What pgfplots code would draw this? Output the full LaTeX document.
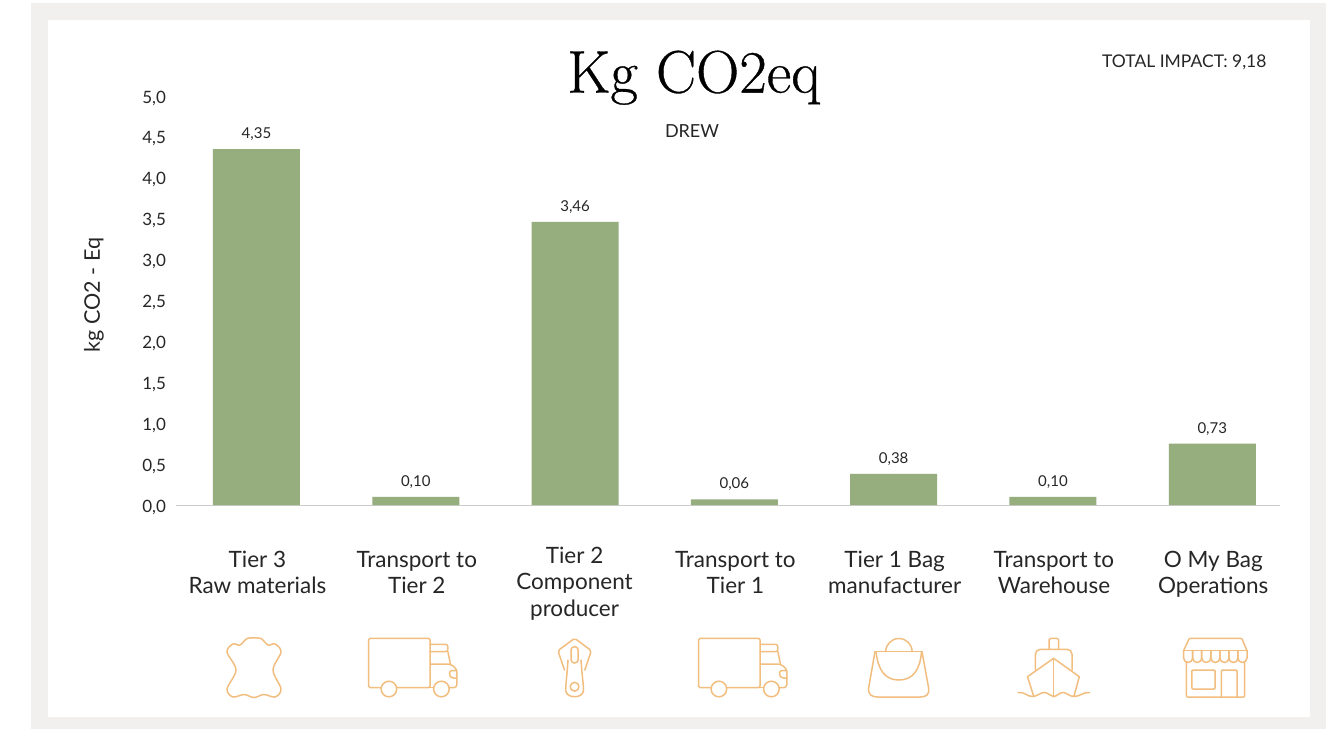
\documentclass[border=0pt]{standalone}
\usepackage{fontspec}
\setsansfont{Lato}
\newfontfamily\titlefont[FakeBold=0.6]{Latin Modern Roman}
\usepackage{pgfplots}
\pgfplotsset{compat=1.18}
\definecolor{frameg}{HTML}{F1F0EE}
\definecolor{barg}{HTML}{96AD7E}
\definecolor{ico}{HTML}{F2BE7F}
\definecolor{txt}{HTML}{262626}
\newcommand{\truckicon}{%
  \draw[rounded corners=1.5] (381,687.7) -- (368.6,687.7) -- (368.6,638.3) -- (430,638.3) -- (430,687.7) -- (397,687.7);
  \draw (430,687.7) -- (433,687.7);
  \draw[rounded corners=2.5] (430,644.3) -- (447.9,644.3) -- (447.9,651.7) -- (430,651.7);
  \draw (447.9,651.7) -- (450.4,664);
  \draw[rounded corners=3] (430,664) -- (450.4,664) -- (456.8,669) -- (456.8,687.7) -- (449.5,687.7);
  \draw[rounded corners=1.5] (456.8,670.7) -- (449.6,670.7) -- (449.6,676) -- (452,678) -- (456.8,678);
  \draw (388.9,689) circle (7.8);
  \draw (441.4,689) circle (7.8);
}
\begin{document}
\begin{tikzpicture}[x=1pt,y=1pt]
\useasboundingbox (0,0) rectangle (1332,729);
\fill[white] (0,0) rectangle (1332,729);
\fill[frameg] (31,0) rectangle (1326,726);
\fill[white] (48,12) rectangle (1310,709);
\begin{axis}[
  at={(176pt,224pt)}, anchor=south west,
  scale only axis, width=1104pt, height=409pt,
  xmin=-0.505, xmax=6.425, ymin=0, ymax=5,
  axis x line=bottom, axis y line=left,
  axis line style={-},
  x axis line style={draw=black!20, line width=1pt},
  y axis line style={draw=none},
  major tick length=0pt,
  ytick={0,0.5,...,5},
  xtick={0,1,3,4,5,6},
  xticklabels={
    Tier 3\\Raw materials,
    Transport to\\Tier 2,
    Transport to\\Tier 1,
    Tier 1 Bag\\manufacturer,
    Transport to\\Warehouse,
    O My Bag\\Operations},
  extra x ticks={2},
  extra x tick labels={Tier 2\\Component\\producer},
  extra x tick style={xticklabel style={yshift=4pt, xshift=-1.5pt}},
  xticklabel style={font=\sffamily\fontsize{22.5}{26.5}\selectfont, text=txt, align=center, anchor=north, yshift=-42.5pt, xshift=1pt},
  yticklabel style={font=\sffamily\fontsize{17}{18}\selectfont, text=txt, xshift=-6.5pt, yshift=-2pt,
    /pgf/number format/.cd, fixed, fixed zerofill, precision=1, use comma, assume math mode=true},
  ylabel={kg CO2 - Eq},
  y label style={at={(axis description cs:-0.0743,0.513)}, anchor=center,
    font=\sffamily\fontsize{21.5}{24}\selectfont, text=txt},
  title={\titlefont\fontsize{60}{66}\selectfont Kg CO2eq},
  title style={at={(axis description cs:0.469,1.03)}, anchor=center, text=black},
  point meta=explicit,
  nodes near coords,
  nodes near coords style={font=\sffamily\fontsize{15}{17}\selectfont, text=txt, anchor=south, yshift=5pt,
    /pgf/number format/.cd, fixed, fixed zerofill, precision=2, use comma, assume math mode=true},
  clip=false,
]
\addplot[ybar, bar width=87pt, draw=none, fill=barg] coordinates {
  (0,4.35) [4.35]
  (1,0.10) [0.10]
  (2,3.46) [3.46]
  (3,0.07) [0.06]
  (4,0.38) [0.38]
  (5,0.10) [0.10]
  (6,0.75) [0.73]
};
\end{axis}
\begin{scope}[x=1pt,y=-1pt,shift={(0,-729)}]
  \node[font=\sffamily\fontsize{18}{20}\selectfont, text=txt] at (692,131) {DREW};
  \node[font=\sffamily\fontsize{17.5}{20}\selectfont, text=txt, anchor=east] at (1270,62) {TOTAL IMPACT: 9,18};
  \begin{scope}[draw=ico, line width=1.5pt, line join=round, line cap=round]
    % leather
    \draw plot[smooth cycle, tension=0.55] coordinates {(247,638.5) (254,638) (261,638.5) (268,645) (275,644) (281,652) (273,670) (281,689) (275,697) (264,694.5) (254,697.5) (244,694.5) (233,697) (227,689) (236,670) (227,652) (233,644) (240,645)};
    % trucks
    \truckicon
    \begin{scope}[shift={(330,0)}]\truckicon\end{scope}
    % zipper
    \draw[rounded corners=2] (564.5,670) -- (557.9,650.7) -- (574.6,638.3) -- (591.4,650.7) -- (584.8,670);
    \draw[rounded corners=3.4] (571,663) rectangle (578.2,646.7);
    \draw (568,660) .. controls (567,675) and (565.7,685) .. (565.7,690) .. controls (565.7,699) and (583.5,699) .. (583.5,690) .. controls (583.5,685) and (582,675) .. (581,660);
    \draw (574.6,686.7) circle (4.4);
    % bag
    \draw (885.7,651.7) arc[start angle=180, end angle=360, radius=13.2];
    \draw[rounded corners=1] (875,651.7) -- (922,651.7);
    \draw (875,651.7) -- (868.6,688) .. controls (868,695) and (872,697) .. (878,697) -- (920,697) .. controls (926,697) and (929.5,695) .. (928.6,688) -- (922,651.7);
    \draw (876,651.7) .. controls (878,670) and (885,680) .. (898.9,680) .. controls (913,680) and (920,670) .. (921.5,651.7);
    % ship
    \draw[rounded corners=1.5] (1049,649.3) -- (1049,638.3) -- (1058.6,638.3) -- (1058.6,649.3);
    \draw[rounded corners=5] (1035.4,670) -- (1035.4,649.3) -- (1072,649.3) -- (1072,670);
    \draw (1033.6,696) -- (1027.5,676.7) -- (1053.6,658.3) -- (1079.3,676.7) -- (1074,696);
    \draw (1053.6,658.3) -- (1053.6,697);
    \draw (1018,692.5) .. controls (1024,691) and (1027,697) .. (1033,696.5) .. controls (1038,696) and (1041,692) .. (1045,692.5) .. controls (1049,693) and (1050,696.5) .. (1053.6,696.5) .. controls (1057,696.5) and (1059,692.5) .. (1063,692.5) .. controls (1067,692.5) and (1069,696.5) .. (1074,696.5) .. controls (1080,696.5) and (1083,692) .. (1089.5,692.5);
    % shop
    \draw[rounded corners=1] (1183.6,650.7) -- (1189.3,638.3) -- (1241.8,638.3) -- (1247,650.7);
    \draw (1183.6,650.7) -- (1247,650.7);
    \foreach \i in {0,...,6} {
      \draw (1183.6+9.057*\i,650.7) -- (1183.6+9.057*\i,658) arc[start angle=180, end angle=0, radius=4.53] -- (1183.6+9.057*\i+9.057,650.7);
    }
    \draw[rounded corners=1] (1186.4,662) -- (1186.4,697) -- (1244.6,697) -- (1244.6,662);
    \draw[rounded corners=1] (1191.8,670) rectangle (1215,689);
    \draw[rounded corners=1] (1221.4,697) -- (1221.4,670) -- (1237,670) -- (1237,697);
  \end{scope}
\end{scope}
\end{tikzpicture}
\end{document}
